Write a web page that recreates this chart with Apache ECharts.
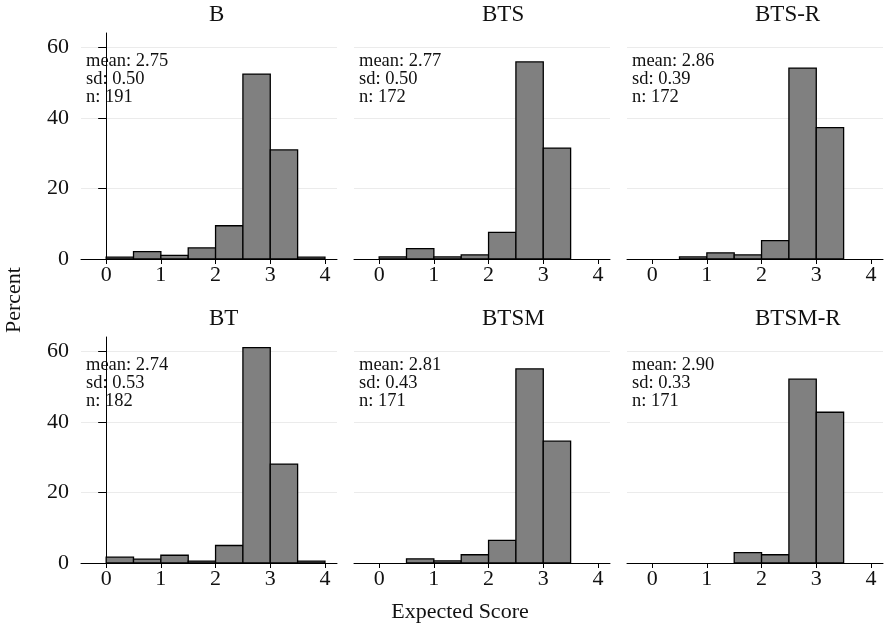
<!DOCTYPE html>
<html>
<head>
<meta charset="utf-8">
<script src="https://cdn.jsdelivr.net/npm/echarts@6/dist/echarts.min.js"></script>
<style>
html,body{margin:0;padding:0;background:#fff;}
#chart{width:885px;height:627px;}
</style>
</head>
<body>
<div id="chart"></div>
<script>
// Histogram bins (Expected Score), width 0.5
const binStarts = [0, 0.5, 1, 1.5, 2, 2.5, 3, 3.5];
const binWidth = 0.5;

// Percent per bin, per panel
const panelNames = ['B', 'BTS', 'BTS-R', 'BT', 'BTSM', 'BTSM-R'];
const pctB     = [0.52, 2.09, 1.05, 3.14, 9.42, 52.36, 30.89, 0.52];
const pctBTS   = [0.58, 2.91, 0.58, 1.16, 7.56, 55.81, 31.40, 0];
const pctBTSR  = [0, 0.58, 1.74, 1.16, 5.23, 54.07, 37.21, 0];
const pctBT    = [1.65, 1.10, 2.20, 0.55, 4.95, 60.99, 28.02, 0.55];
const pctBTSM  = [0, 1.17, 0.58, 2.34, 6.43, 54.97, 34.50, 0];
const pctBTSMR = [0, 0, 0, 2.92, 2.34, 52.05, 42.69, 0];

// Summary stats
const means = ['2.75', '2.77', '2.86', '2.74', '2.81', '2.90'];
const sds   = ['0.50', '0.50', '0.39', '0.53', '0.43', '0.33'];
const ns    = ['191', '172', '172', '182', '171', '171'];

const xTicks = [0, 1, 2, 3, 4];
const yTicks = [0, 20, 40, 60];

const panelValues = [pctB, pctBTS, pctBTSR, pctBT, pctBTSM, pctBTSMR];

const FONT = "'Liberation Serif', 'Times New Roman', serif";
const lefts = [81, 354, 627];
const tops = [33, 337];
const W = 256, H = 226;

const grids = [], xAxes = [], yAxes = [], series = [], graphics = [];

panelValues.forEach((vals, i) => {
  const col = i % 3, row = Math.floor(i / 3);
  grids.push({left: lefts[col], top: tops[row], width: W, height: H, containLabel: false});
  xAxes.push({
    type: 'value', gridIndex: i, min: -0.46, max: 4.22,
    axisLine: {show: true, onZero: false, lineStyle: {color: '#000', width: 1}},
    axisTick: {show: true, length: 5, lineStyle: {color: '#000'}, customValues: xTicks},
    axisLabel: {show: true, customValues: xTicks, margin: 5, color: '#111', fontSize: 22, fontFamily: FONT},
    splitLine: {show: false}
  });
  yAxes.push({
    type: 'value', gridIndex: i, min: 0, max: 64,
    axisLine: {show: col === 0, lineStyle: {color: '#000', width: 1}},
    axisTick: {show: col === 0, length: 8, lineStyle: {color: '#000'}, customValues: yTicks},
    axisLabel: {show: col === 0, customValues: yTicks, margin: 12, color: '#111', fontSize: 22, fontFamily: FONT},
    splitLine: {show: true, lineStyle: {color: '#ebebeb', width: 1}}
  });
  series.push({
    type: 'custom', xAxisIndex: i, yAxisIndex: i,
    data: binStarts.map((b, k) => [b, vals[k]]),
    encode: {x: 0, y: 1},
    renderItem: (params, api) => {
      const x0 = api.value(0), h = api.value(1);
      if (!h) return null;
      const p0 = api.coord([x0, 0]);
      const p1 = api.coord([x0 + binWidth, h]);
      return {
        type: 'rect',
        shape: {x: p0[0], y: p1[1], width: p1[0] - p0[0], height: p0[1] - p1[1]},
        style: {fill: '#808080', stroke: '#000', lineWidth: 1.3}
      };
    }
  });
  graphics.push({
    type: 'text', left: lefts[col] + W / 2, top: tops[row] - 30,
    style: {text: panelNames[i], font: '23px ' + FONT, fill: '#111', textAlign: 'center'}
  });
  graphics.push({
    type: 'text', x: lefts[col] + 5, y: tops[row] + 19,
    style: {
      text: 'mean: ' + means[i] + '\nsd: ' + sds[i] + '\nn: ' + ns[i],
      font: '18.5px ' + FONT, lineHeight: 18, fill: '#111', textAlign: 'left'
    }
  });
});

graphics.push({
  type: 'text', x: 460, y: 601,
  style: {text: 'Expected Score', font: '22px ' + FONT, fill: '#111', textAlign: 'center'}
});
graphics.push({
  type: 'text', x: 3, y: 300, rotation: Math.PI / 2,
  style: {text: 'Percent', font: '22px ' + FONT, fill: '#111', textAlign: 'center', textVerticalAlign: 'top'}
});

const chart = echarts.init(document.getElementById('chart'));
chart.setOption({
  animation: false,
  backgroundColor: '#fff',
  grid: grids, xAxis: xAxes, yAxis: yAxes, series: series, graphic: graphics
});
</script>
</body>
</html>
